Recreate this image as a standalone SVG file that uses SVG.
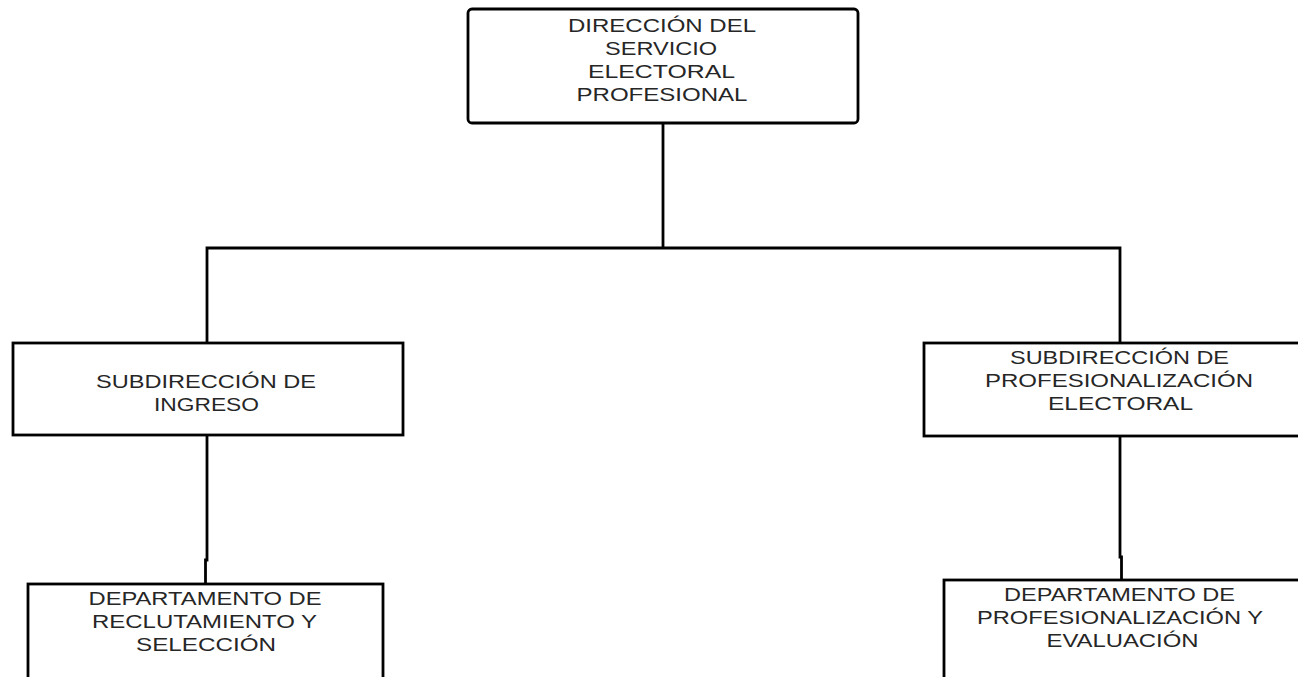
<svg xmlns="http://www.w3.org/2000/svg" width="1298" height="677" viewBox="0 0 1298 677">
<style>
.box{fill:#fff;stroke:#000;stroke-width:2.8}
.conn{fill:none;stroke:#000;stroke-width:2.8}
.t{font-family:"Liberation Sans",Arial,sans-serif;font-size:19px;fill:#262626;text-anchor:middle}
</style>
<rect width="1298" height="677" fill="#fff"/>
<g id="connectors">
<path class="conn" d="M663 123 V248"/>
<path class="conn" d="M207 343 V248 H1120 V343"/>
<path class="conn" d="M207 435 V560 H205.5 V584"/>
<path class="conn" d="M1120 436 V557 H1121.5 V580"/>
</g>
<g id="n-direccion">
<rect class="box" x="468" y="9" width="390" height="114" rx="4"/>
<text class="t" x="662" y="31.5" textLength="188" lengthAdjust="spacingAndGlyphs">DIRECCIÓN DEL</text>
<text class="t" x="661" y="55" textLength="112" lengthAdjust="spacingAndGlyphs">SERVICIO</text>
<text class="t" x="661.5" y="77.5" textLength="147" lengthAdjust="spacingAndGlyphs">ELECTORAL</text>
<text class="t" x="662" y="100.5" textLength="171" lengthAdjust="spacingAndGlyphs">PROFESIONAL</text>
</g>
<g id="n-sub-ingreso">
<rect class="box" x="13" y="343" width="390" height="92"/>
<text class="t" x="206" y="388" textLength="220" lengthAdjust="spacingAndGlyphs">SUBDIRECCIÓN DE</text>
<text class="t" x="206.5" y="411" textLength="105" lengthAdjust="spacingAndGlyphs">INGRESO</text>
</g>
<g id="n-sub-prof">
<rect class="box" x="924" y="343" width="390" height="93"/>
<text class="t" x="1119.5" y="363.5" textLength="219" lengthAdjust="spacingAndGlyphs">SUBDIRECCIÓN DE</text>
<text class="t" x="1119" y="387" textLength="268" lengthAdjust="spacingAndGlyphs">PROFESIONALIZACIÓN</text>
<text class="t" x="1120.5" y="409.5" textLength="145" lengthAdjust="spacingAndGlyphs">ELECTORAL</text>
</g>
<g id="n-dep-recl">
<rect class="box" x="28" y="584" width="355" height="110"/>
<text class="t" x="205" y="605" textLength="233" lengthAdjust="spacingAndGlyphs">DEPARTAMENTO DE</text>
<text class="t" x="204.5" y="628" textLength="225" lengthAdjust="spacingAndGlyphs">RECLUTAMIENTO Y</text>
<text class="t" x="206" y="651" textLength="140" lengthAdjust="spacingAndGlyphs">SELECCIÓN</text>
</g>
<g id="n-dep-prof">
<rect class="box" x="944" y="580" width="370" height="114"/>
<text class="t" x="1119.5" y="601" textLength="231" lengthAdjust="spacingAndGlyphs">DEPARTAMENTO DE</text>
<text class="t" x="1120" y="624" textLength="286" lengthAdjust="spacingAndGlyphs">PROFESIONALIZACIÓN Y</text>
<text class="t" x="1122.5" y="647" textLength="152" lengthAdjust="spacingAndGlyphs">EVALUACIÓN</text>
</g>
</svg>
